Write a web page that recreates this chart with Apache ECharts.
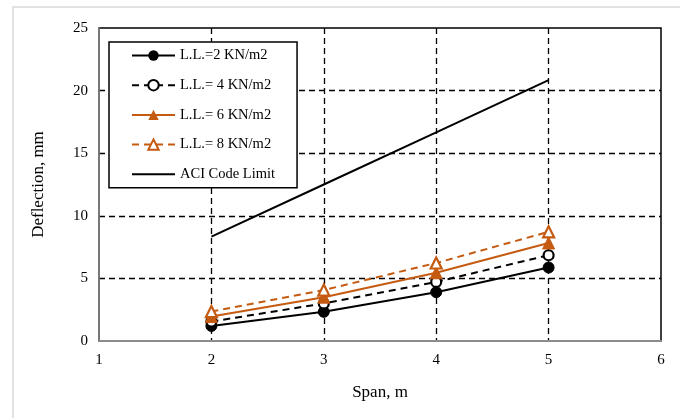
<!DOCTYPE html>
<html>
<head>
<meta charset="utf-8">
<script src="https://cdn.jsdelivr.net/npm/echarts@6/dist/echarts.min.js"></script>
<style>
  html, body { margin: 0; padding: 0; background: #fff; }
  #chart { width: 680px; height: 418px; }
</style>
</head>
<body>
<div id="chart"></div>
<script>
// span, m
const spans = [2, 3, 4, 5]
// deflection, mm
const ll2 = [1.2, 2.33, 3.9, 5.87]
const ll4 = [1.55, 3.0, 4.72, 6.85]
const ll6 = [1.95, 3.5, 5.45, 7.83]
const ll8 = [2.35, 4.07, 6.23, 8.72]
const aciLimit = [8.33, 12.5, 16.67, 20.83]

const seriesNames = ['L.L.=2 KN/m2', 'L.L.= 4 KN/m2', 'L.L.= 6 KN/m2', 'L.L.= 8 KN/m2', 'ACI Code Limit']

const orange = '#c55a11'
const font = 'Liberation Serif'

const pairs = vals => spans.map((s, i) => [s, vals[i]])

const chart = echarts.init(document.getElementById('chart'))

const option = {
  animation: false,
  textStyle: { fontFamily: font },
  graphic: [{
    type: 'rect',
    z: -10,
    shape: { x: 13, y: 7, width: 700, height: 430 },
    style: { fill: '#fff', stroke: '#d9d9d9', lineWidth: 1.5 }
  }],
  grid: {
    left: 99, right: 19, top: 28, bottom: 77,
    show: true, borderColor: '#000', borderWidth: 1.5
  },
  legend: {
    orient: 'vertical',
    left: 109, top: 42,
    backgroundColor: '#fff',
    borderColor: '#000', borderWidth: 1.5,
    padding: [6, 22, 6, 22],
    itemWidth: 43, itemHeight: 13, itemGap: 14.7,
    textStyle: { fontFamily: font, fontSize: 14.5, color: '#000' },
    data: seriesNames.slice(0, 4).concat([{ name: seriesNames[4], itemStyle: { opacity: 0 } }])
  },
  xAxis: {
    type: 'value', min: 1, max: 6, interval: 1,
    name: 'Span, m', nameLocation: 'middle', nameGap: 43,
    nameTextStyle: { fontFamily: font, fontSize: 17, color: '#000' },
    axisLine: { lineStyle: { color: '#8c8c8c', width: 2 } },
    axisTick: { show: false },
    axisLabel: { fontFamily: font, fontSize: 15, color: '#000', margin: 12 },
    splitLine: { show: true, showMinLine: false, showMaxLine: false, lineStyle: { color: '#000', type: [6, 4], width: 1.3 } }
  },
  yAxis: {
    type: 'value', min: 0, max: 25, interval: 5,
    name: 'Deflection, mm', nameLocation: 'middle', nameGap: 52, nameRotate: 90,
    nameTextStyle: { fontFamily: font, fontSize: 17, color: '#000' },
    axisLine: { show: true, lineStyle: { color: '#8c8c8c', width: 1.5 } },
    axisTick: { show: false },
    axisLabel: { fontFamily: font, fontSize: 15, color: '#000', margin: 11 },
    splitLine: { show: true, showMinLine: false, showMaxLine: false, lineStyle: { color: '#000', type: [6, 4], width: 1.3 } }
  },
  series: [
    {
      name: seriesNames[0], type: 'line', data: pairs(ll2),
      symbol: 'circle', symbolSize: 11,
      lineStyle: { color: '#000', width: 2 },
      itemStyle: { color: '#000', borderColor: '#000' }
    },
    {
      name: seriesNames[1], type: 'line', data: pairs(ll4),
      symbol: 'circle', symbolSize: 10,
      lineStyle: { color: '#000', width: 2, type: [7, 5] },
      itemStyle: { color: '#fff', borderColor: '#000', borderWidth: 2.2 }
    },
    {
      name: seriesNames[2], type: 'line', data: pairs(ll6),
      symbol: 'triangle', symbolSize: 12,
      lineStyle: { color: orange, width: 2 },
      itemStyle: { color: orange, borderColor: orange }
    },
    {
      name: seriesNames[3], type: 'line', data: pairs(ll8),
      symbol: 'triangle', symbolSize: 11,
      lineStyle: { color: orange, width: 2, type: [7, 5] },
      itemStyle: { color: '#fff', borderColor: orange, borderWidth: 2.2 }
    },
    {
      name: seriesNames[4], type: 'line', data: pairs(aciLimit),
      symbol: 'none', showSymbol: false,
      lineStyle: { color: '#000', width: 2 },
      itemStyle: { color: '#000' }
    }
  ]
}

chart.setOption(option)
</script>
</body>
</html>
